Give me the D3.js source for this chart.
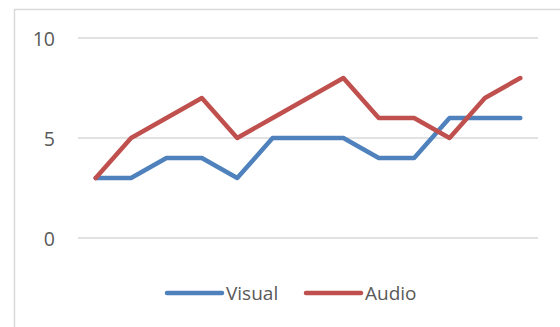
<!DOCTYPE html>
<html>
<head>
<meta charset="utf-8">
<script src="https://cdn.jsdelivr.net/npm/d3@7"></script>
<style>
  html, body { margin: 0; padding: 0; background: #fff; }
  svg { display: block; }
  text { font-family: "Open Sans", "Liberation Sans", sans-serif; fill: #595959; }
</style>
</head>
<body>
<svg id="chart" width="560" height="327"></svg>
<script>
const categories = ["1","2","3","4","5","6","7","8","9","10","11","12","13"];
const visual = [3, 3, 4, 4, 3, 5, 5, 5, 4, 4, 6, 6, 6];
const audio  = [3, 5, 6, 7, 5, 6, 7, 8, 6, 6, 5, 7, 8];
const yTicks = [0, 5, 10];
const seriesNames = ["Visual", "Audio"];
const seriesColors = ["#4f81bd", "#c0504d"];

const svg = d3.select("#chart");

// outer frame of the chart area (runs off the right and bottom edges)
svg.append("rect")
  .attr("x", 14.5).attr("y", 9.5)
  .attr("width", 600).attr("height", 400)
  .attr("fill", "none").attr("stroke", "#d9d9d9").attr("stroke-width", 1.5);

const x = d3.scalePoint().domain(categories).range([78, 538]).padding(0.5);
const y = d3.scaleLinear().domain([0, 10]).range([238, 38]);

// horizontal gridlines
svg.append("g").selectAll("line").data(yTicks).join("line")
  .attr("x1", 78).attr("x2", 538)
  .attr("y1", d => y(d)).attr("y2", d => y(d))
  .attr("stroke", "#d9d9d9").attr("stroke-width", 1.5);

// y-axis labels
const yAxis = d3.axisLeft(y).tickValues(yTicks).tickSize(0).tickPadding(0);
const gy = svg.append("g").attr("transform", "translate(55,0)").call(yAxis);
gy.select(".domain").remove();
gy.selectAll("text")
  .attr("font-size", 19.5)
  .style("font-family", "'Open Sans', 'Liberation Sans', sans-serif")
  .attr("fill", "#595959")
  .attr("dy", "0.36em");

const line = d3.line()
  .x((d, i) => x(categories[i]))
  .y(d => y(d));

[visual, audio].forEach((vals, k) => {
  svg.append("path")
    .datum(vals)
    .attr("d", line)
    .attr("fill", "none")
    .attr("stroke", seriesColors[k])
    .attr("stroke-width", 4.5)
    .attr("stroke-linejoin", "round")
    .attr("stroke-linecap", "round");
});

// legend
const legendItems = [
  { name: seriesNames[0], color: seriesColors[0], x0: 167 },
  { name: seriesNames[1], color: seriesColors[1], x0: 306 }
];
const lg = svg.append("g");
legendItems.forEach(it => {
  lg.append("line")
    .attr("x1", it.x0).attr("x2", it.x0 + 55)
    .attr("y1", 293).attr("y2", 293)
    .attr("stroke", it.color).attr("stroke-width", 4.5)
    .attr("stroke-linecap", "round");
  lg.append("text")
    .attr("x", it.x0 + 59).attr("y", 293)
    .attr("dy", "0.36em")
    .attr("font-size", 19)
    .text(it.name);
});
</script>
</body>
</html>
